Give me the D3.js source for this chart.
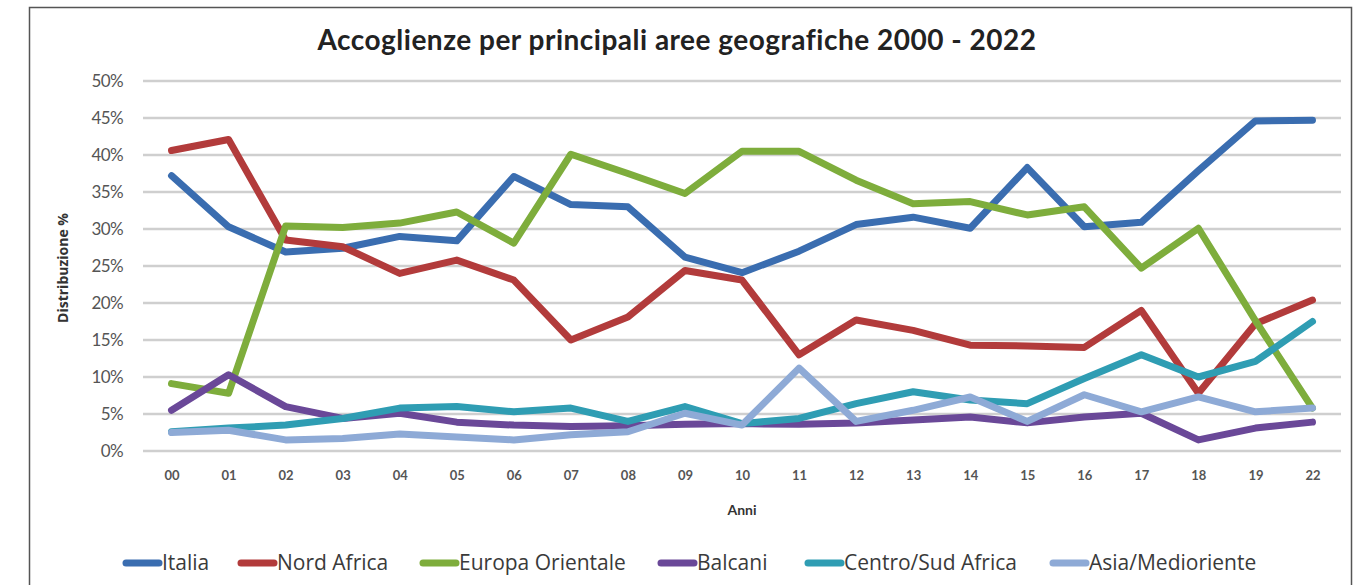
<!DOCTYPE html>
<html>
<head>
<meta charset="utf-8">
<script src="https://cdn.jsdelivr.net/npm/d3@7"></script>
<style>
  body { margin: 0; background: #fff; }
  text { font-family: Lato, "Open Sans", sans-serif; }
</style>
</head>
<body>
<div id="chart"></div>
<script>
const anni = ["00","01","02","03","04","05","06","07","08","09","10","11","12","13","14","15","16","17","18","19","22"];
const yTicks = [0, 5, 10, 15, 20, 25, 30, 35, 40, 45, 50];

const italia = [37.2, 30.3, 26.9, 27.4, 29.0, 28.4, 37.1, 33.3, 33.0, 26.2, 24.1, 27.0, 30.6, 31.6, 30.1, 38.3, 30.3, 30.9, 37.9, 44.6, 44.7];
const nordAfrica = [40.6, 42.1, 28.5, 27.6, 24.0, 25.8, 23.1, 15.0, 18.1, 24.4, 23.1, 13.0, 17.7, 16.3, 14.3, 14.2, 14.0, 19.0, 7.8, 17.2, 20.4];
const europaOrientale = [9.1, 7.8, 30.4, 30.2, 30.8, 32.3, 28.1, 40.1, 37.5, 34.8, 40.5, 40.5, 36.6, 33.4, 33.7, 31.9, 33.0, 24.7, 30.1, 17.6, 5.8];
const balcani = [5.5, 10.3, 6.0, 4.4, 5.1, 3.9, 3.5, 3.3, 3.4, 3.6, 3.7, 3.6, 3.8, 4.2, 4.6, 3.8, 4.6, 5.1, 1.5, 3.1, 3.9];
const centroSudAfrica = [2.6, 3.1, 3.5, 4.4, 5.8, 6.0, 5.3, 5.8, 4.0, 6.0, 3.7, 4.4, 6.4, 8.0, 6.9, 6.4, 9.8, 13.0, 10.0, 12.1, 17.5];
const asiaMedioriente = [2.5, 2.8, 1.5, 1.7, 2.3, 1.9, 1.5, 2.2, 2.6, 5.1, 3.5, 11.2, 4.0, 5.5, 7.3, 4.0, 7.6, 5.3, 7.3, 5.3, 5.8];

const series = [
  { name: "Italia", values: italia, color: "#3a6db0" },
  { name: "Nord Africa", values: nordAfrica, color: "#b23b3b" },
  { name: "Europa Orientale", values: europaOrientale, color: "#7ead3c" },
  { name: "Balcani", values: balcani, color: "#6a4898" },
  { name: "Centro/Sud Africa", values: centroSudAfrica, color: "#2f9db3" },
  { name: "Asia/Medioriente", values: asiaMedioriente, color: "#8eaad6" }
];

const W = 1358, H = 585;
const plot = { left: 143, right: 1341, top: 81, bottom: 451 };

const svg = d3.select("#chart").append("svg")
  .attr("width", W).attr("height", H);

// frame
svg.append("rect")
  .attr("x", 29.5).attr("y", 7.5)
  .attr("width", 1322).attr("height", 600)
  .attr("fill", "#fff").attr("stroke", "#555").attr("stroke-width", 1.5);

const x = d3.scalePoint().domain(anni).range([plot.left, plot.right]).padding(0.5);
const y = d3.scaleLinear().domain([0, 50]).range([plot.bottom, plot.top]);

// gridlines
svg.append("g")
  .selectAll("line")
  .data(yTicks)
  .enter().append("line")
  .attr("x1", plot.left).attr("x2", plot.right)
  .attr("y1", d => y(d)).attr("y2", d => y(d))
  .attr("stroke", "#cfcfcf").attr("stroke-width", 2.5);

// y axis labels
const yAxis = svg.append("g")
  .attr("transform", `translate(${plot.left - 20},0)`)
  .call(d3.axisLeft(y).tickValues(yTicks).tickSize(0).tickFormat(d => d + "%"));
yAxis.select(".domain").remove();
yAxis.selectAll("text")
  .attr("x", 0)
  .style("font-family", "Lato, sans-serif")
  .style("font-size", "17px")
  .style("letter-spacing", "-0.6px")
  .attr("fill", "#555");

// x axis labels
const xAxis = svg.append("g")
  .attr("transform", `translate(0,${plot.bottom + 20})`)
  .call(d3.axisBottom(x).tickSize(0));
xAxis.select(".domain").remove();
xAxis.selectAll("text")
  .attr("y", 0).attr("dy", "0.71em")
  .style("font-family", "Lato, sans-serif")
  .style("font-size", "13px")
  .style("font-weight", "bold")
  .attr("fill", "#555");

// axis titles
svg.append("text")
  .attr("x", x("10")).attr("y", 515)
  .attr("text-anchor", "middle")
  .style("font-size", "14px").style("font-weight", "bold")
  .attr("fill", "#333")
  .text("Anni");

svg.append("text")
  .attr("transform", `translate(68,${(plot.top + plot.bottom) / 2 + 2}) rotate(-90)`)
  .attr("text-anchor", "middle")
  .style("font-family", "'Open Sans', sans-serif")
  .style("font-size", "14px").style("font-weight", "bold")
  .attr("fill", "#333")
  .text("Distribuzione %");

// title
svg.append("text")
  .attr("x", 677).attr("y", 50)
  .attr("text-anchor", "middle")
  .style("font-size", "28px").style("font-weight", "bold")
  .style("letter-spacing", "0.5px")
  .attr("fill", "#222")
  .text("Accoglienze per principali aree geografiche 2000 - 2022");

// lines
const line = d3.line()
  .x((d, i) => x(anni[i]))
  .y(d => y(d));

svg.append("g")
  .selectAll("path")
  .data(series)
  .enter().append("path")
  .attr("fill", "none")
  .attr("stroke", d => d.color)
  .attr("stroke-width", 7)
  .attr("stroke-linejoin", "round")
  .attr("stroke-linecap", "round")
  .attr("d", d => line(d.values));

// legend
const legendX = [123, 238, 420, 658, 805, 1050];
const legend = svg.append("g")
  .selectAll("g")
  .data(series)
  .enter().append("g")
  .attr("transform", (d, i) => `translate(${legendX[i]},563)`);

legend.append("line")
  .attr("x1", 3).attr("x2", 36)
  .attr("stroke", d => d.color)
  .attr("stroke-width", 7)
  .attr("stroke-linecap", "round");

legend.append("text")
  .attr("x", 39).attr("dy", "0.35em")
  .style("font-family", "'Open Sans', sans-serif")
  .style("font-size", "21px")
  .style("letter-spacing", "0px")
  .attr("fill", "#3a3a3a")
  .text(d => d.name);
</script>
</body>
</html>
